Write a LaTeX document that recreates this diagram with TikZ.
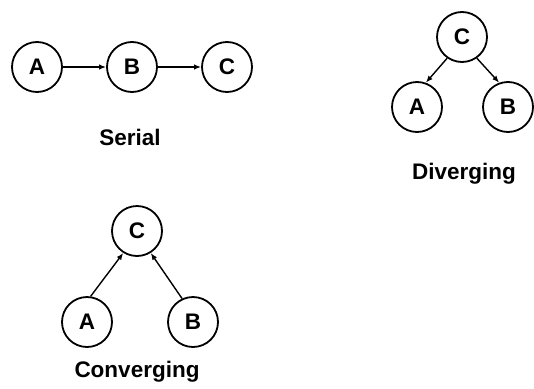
\documentclass[tikz,border=0pt]{standalone}
\usepackage{fontspec}
\setmainfont{Liberation Sans}
\usetikzlibrary{arrows.meta}
\begin{document}
\begin{tikzpicture}[x=1pt,y=-1pt,
  vnode/.style={circle,draw,line width=1.8pt,minimum size=50pt,inner sep=0pt,font=\fontsize{22.5}{26}\selectfont\bfseries},
  lab/.style={font=\fontsize{22.5}{26}\selectfont\bfseries,inner sep=0pt},
  edge/.style={line width=1.4pt,-{Latex[length=7pt,width=5.5pt]}}]
\useasboundingbox (0,0) rectangle (534,388);
% Serial
\node[vnode] (sA) at (37,67) {A};
\node[vnode] (sB) at (132,67) {B};
\node[vnode] (sC) at (227,67) {C};
\draw[edge] (sA) -- (sB);
\draw[edge] (sB) -- (sC);
\node[lab] (sL) at (130,137) {Serial};
% Diverging
\node[vnode] (dC) at (462,37) {C};
\node[vnode] (dA) at (417,107) {A};
\node[vnode] (dB) at (508,107) {B};
\draw[edge] (dC.-125) -- (dA.70);
\draw[edge] (dC.-55) -- (dB.110);
\node[lab] (dL) at (464,174) {Diverging};
% Converging
\node[vnode] (cC) at (137,231) {C};
\node[vnode] (cA) at (87,322) {A};
\node[vnode] (cB) at (193,322) {B};
\draw[edge] (cA.82) -- (cC.-122);
\draw[edge] (cB.115) -- (cC.-58);
\node[lab] (cL) at (137,372) {Converging};
\end{tikzpicture}
\end{document}
